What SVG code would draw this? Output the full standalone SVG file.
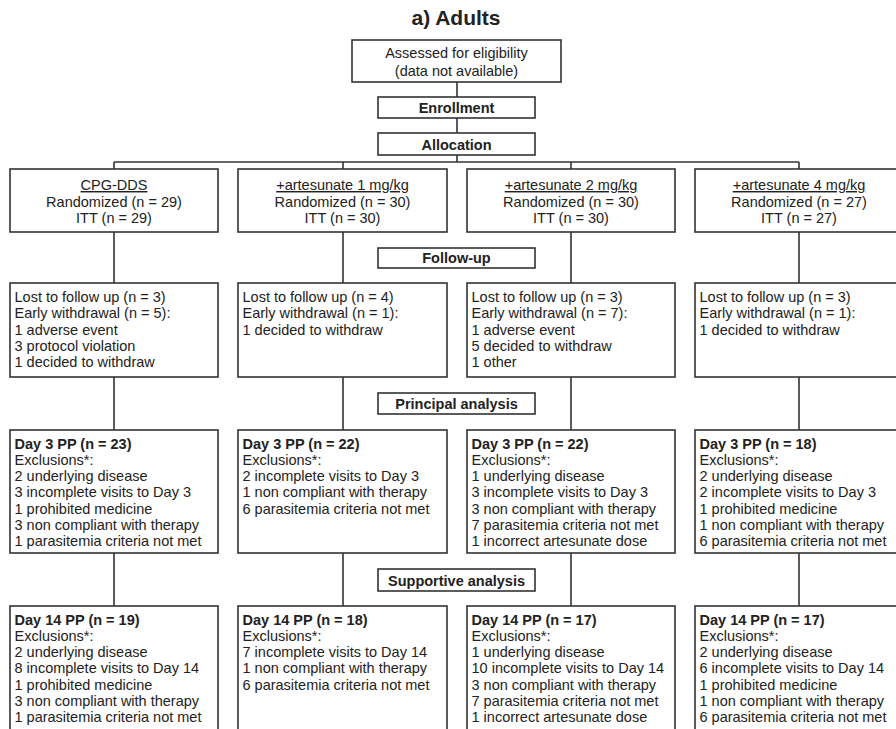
<svg xmlns="http://www.w3.org/2000/svg" width="896" height="729" viewBox="0 0 896 729">
<style>
text{font-family:"Liberation Sans",Arial,sans-serif;font-size:14.5px;fill:#222}
.b{font-weight:bold}
.c{text-anchor:middle}
.t{font-size:21px;font-weight:bold}
rect{fill:#fff;stroke:#333;stroke-width:1.6}
.conn line{stroke:#333;stroke-width:1.6}
.u{text-decoration:underline}
</style>
<rect x="0" y="0" width="896" height="729" style="fill:#fff;stroke:none"/>
<text class="t c" x="456" y="25">a) Adults</text>
<g class="conn">
<line x1="457" y1="82" x2="457" y2="97"/>
<line x1="457" y1="118" x2="457" y2="133"/>
<line x1="457" y1="155" x2="457" y2="162"/>
<line x1="114" y1="162" x2="799" y2="162"/>
<line x1="114" y1="162" x2="114" y2="169"/>
<line x1="343" y1="162" x2="343" y2="169"/>
<line x1="571" y1="162" x2="571" y2="169"/>
<line x1="799" y1="162" x2="799" y2="169"/>
<line x1="114" y1="232" x2="114" y2="283"/>
<line x1="343" y1="232" x2="343" y2="283"/>
<line x1="571" y1="232" x2="571" y2="283"/>
<line x1="799" y1="232" x2="799" y2="283"/>
<line x1="114" y1="377" x2="114" y2="430"/>
<line x1="343" y1="377" x2="343" y2="430"/>
<line x1="571" y1="377" x2="571" y2="430"/>
<line x1="799" y1="377" x2="799" y2="430"/>
<line x1="114" y1="553" x2="114" y2="606"/>
<line x1="343" y1="553" x2="343" y2="606"/>
<line x1="571" y1="553" x2="571" y2="606"/>
<line x1="799" y1="553" x2="799" y2="606"/>
</g>
<g id="assessed">
<rect x="352" y="40" width="209" height="42"/>
<text class="c" x="456.5" y="58">Assessed for eligibility</text>
<text class="c" x="456.5" y="76">(data not available)</text>
</g>
<g id="enrollment">
<rect x="378" y="97" width="157" height="21"/>
<text class="b c" x="456.5" y="113">Enrollment</text>
</g>
<g id="allocation">
<rect x="378" y="133" width="157" height="22"/>
<text class="b c" x="456.5" y="149.5">Allocation</text>
</g>
<g id="arm1">
<rect x="10" y="169" width="208" height="63"/>
<text class="c u" x="114" y="190">CPG-DDS</text>
<text class="c" x="114" y="207">Randomized (n = 29)</text>
<text class="c" x="114" y="223">ITT (n = 29)</text>
</g>
<g id="arm2">
<rect x="238" y="169" width="209" height="63"/>
<text class="c u" x="342.5" y="190">+artesunate 1 mg/kg</text>
<text class="c" x="342.5" y="207">Randomized (n = 30)</text>
<text class="c" x="342.5" y="223">ITT (n = 30)</text>
</g>
<g id="arm3">
<rect x="467" y="169" width="208" height="63"/>
<text class="c u" x="571" y="190">+artesunate 2 mg/kg</text>
<text class="c" x="571" y="207">Randomized (n = 30)</text>
<text class="c" x="571" y="223">ITT (n = 30)</text>
</g>
<g id="arm4">
<rect x="695" y="169" width="208" height="63"/>
<text class="c u" x="799" y="190">+artesunate 4 mg/kg</text>
<text class="c" x="799" y="207">Randomized (n = 27)</text>
<text class="c" x="799" y="223">ITT (n = 27)</text>
</g>
<g id="followup">
<rect x="378" y="248" width="157" height="20"/>
<text class="b c" x="456.5" y="263">Follow-up</text>
</g>
<g id="fu1">
<rect x="10" y="283" width="208" height="94"/>
<text x="14.5" y="302">Lost to follow up (n = 3)</text>
<text x="14.5" y="318.3">Early withdrawal (n = 5):</text>
<text x="14.5" y="334.6">1 adverse event</text>
<text x="14.5" y="350.9">3 protocol violation</text>
<text x="14.5" y="367.2">1 decided to withdraw</text>
</g>
<g id="fu2">
<rect x="238" y="283" width="209" height="94"/>
<text x="242.5" y="302">Lost to follow up (n = 4)</text>
<text x="242.5" y="318.3">Early withdrawal (n = 1):</text>
<text x="242.5" y="334.6">1 decided to withdraw</text>
</g>
<g id="fu3">
<rect x="467" y="283" width="208" height="94"/>
<text x="471.5" y="302">Lost to follow up (n = 3)</text>
<text x="471.5" y="318.3">Early withdrawal (n = 7):</text>
<text x="471.5" y="334.6">1 adverse event</text>
<text x="471.5" y="350.9">5 decided to withdraw</text>
<text x="471.5" y="367.2">1 other</text>
</g>
<g id="fu4">
<rect x="695" y="283" width="208" height="94"/>
<text x="699.5" y="302">Lost to follow up (n = 3)</text>
<text x="699.5" y="318.3">Early withdrawal (n = 1):</text>
<text x="699.5" y="334.6">1 decided to withdraw</text>
</g>
<g id="principal">
<rect x="378" y="393" width="157" height="21"/>
<text class="b c" x="456.5" y="409">Principal analysis</text>
</g>
<g id="d3a">
<rect x="10" y="430" width="208" height="123"/>
<text class="b" x="14.5" y="448.5">Day 3 PP (n = 23)</text>
<text x="14.5" y="464.8">Exclusions*:</text>
<text x="14.5" y="481.1">2 underlying disease</text>
<text x="14.5" y="497.4">3 incomplete visits to Day 3</text>
<text x="14.5" y="513.7">1 prohibited medicine</text>
<text x="14.5" y="530">3 non compliant with therapy</text>
<text x="14.5" y="546.3">1 parasitemia criteria not met</text>
</g>
<g id="d3b">
<rect x="238" y="430" width="209" height="123"/>
<text class="b" x="242.5" y="448.5">Day 3 PP (n = 22)</text>
<text x="242.5" y="464.8">Exclusions*:</text>
<text x="242.5" y="481.1">2 incomplete visits to Day 3</text>
<text x="242.5" y="497.4">1 non compliant with therapy</text>
<text x="242.5" y="513.7">6 parasitemia criteria not met</text>
</g>
<g id="d3c">
<rect x="467" y="430" width="208" height="123"/>
<text class="b" x="471.5" y="448.5">Day 3 PP (n = 22)</text>
<text x="471.5" y="464.8">Exclusions*:</text>
<text x="471.5" y="481.1">1 underlying disease</text>
<text x="471.5" y="497.4">3 incomplete visits to Day 3</text>
<text x="471.5" y="513.7">3 non compliant with therapy</text>
<text x="471.5" y="530">7 parasitemia criteria not met</text>
<text x="471.5" y="546.3">1 incorrect artesunate dose</text>
</g>
<g id="d3d">
<rect x="695" y="430" width="208" height="123"/>
<text class="b" x="699.5" y="448.5">Day 3 PP (n = 18)</text>
<text x="699.5" y="464.8">Exclusions*:</text>
<text x="699.5" y="481.1">2 underlying disease</text>
<text x="699.5" y="497.4">2 incomplete visits to Day 3</text>
<text x="699.5" y="513.7">1 prohibited medicine</text>
<text x="699.5" y="530">1 non compliant with therapy</text>
<text x="699.5" y="546.3">6 parasitemia criteria not met</text>
</g>
<g id="supportive">
<rect x="378" y="569" width="157" height="22"/>
<text class="b c" x="456.5" y="585.5">Supportive analysis</text>
</g>
<g id="d14a">
<rect x="10" y="606" width="208" height="140"/>
<text class="b" x="14.5" y="624.5">Day 14 PP (n = 19)</text>
<text x="14.5" y="640.8">Exclusions*:</text>
<text x="14.5" y="657.1">2 underlying disease</text>
<text x="14.5" y="673.4">8 incomplete visits to Day 14</text>
<text x="14.5" y="689.7">1 prohibited medicine</text>
<text x="14.5" y="706">3 non compliant with therapy</text>
<text x="14.5" y="722.3">1 parasitemia criteria not met</text>
</g>
<g id="d14b">
<rect x="238" y="606" width="209" height="140"/>
<text class="b" x="242.5" y="624.5">Day 14 PP (n = 18)</text>
<text x="242.5" y="640.8">Exclusions*:</text>
<text x="242.5" y="657.1">7 incomplete visits to Day 14</text>
<text x="242.5" y="673.4">1 non compliant with therapy</text>
<text x="242.5" y="689.7">6 parasitemia criteria not met</text>
</g>
<g id="d14c">
<rect x="467" y="606" width="208" height="140"/>
<text class="b" x="471.5" y="624.5">Day 14 PP (n = 17)</text>
<text x="471.5" y="640.8">Exclusions*:</text>
<text x="471.5" y="657.1">1 underlying disease</text>
<text x="471.5" y="673.4">10 incomplete visits to Day 14</text>
<text x="471.5" y="689.7">3 non compliant with therapy</text>
<text x="471.5" y="706">7 parasitemia criteria not met</text>
<text x="471.5" y="722.3">1 incorrect artesunate dose</text>
</g>
<g id="d14d">
<rect x="695" y="606" width="208" height="140"/>
<text class="b" x="699.5" y="624.5">Day 14 PP (n = 17)</text>
<text x="699.5" y="640.8">Exclusions*:</text>
<text x="699.5" y="657.1">2 underlying disease</text>
<text x="699.5" y="673.4">6 incomplete visits to Day 14</text>
<text x="699.5" y="689.7">1 prohibited medicine</text>
<text x="699.5" y="706">1 non compliant with therapy</text>
<text x="699.5" y="722.3">6 parasitemia criteria not met</text>
</g>
</svg>
